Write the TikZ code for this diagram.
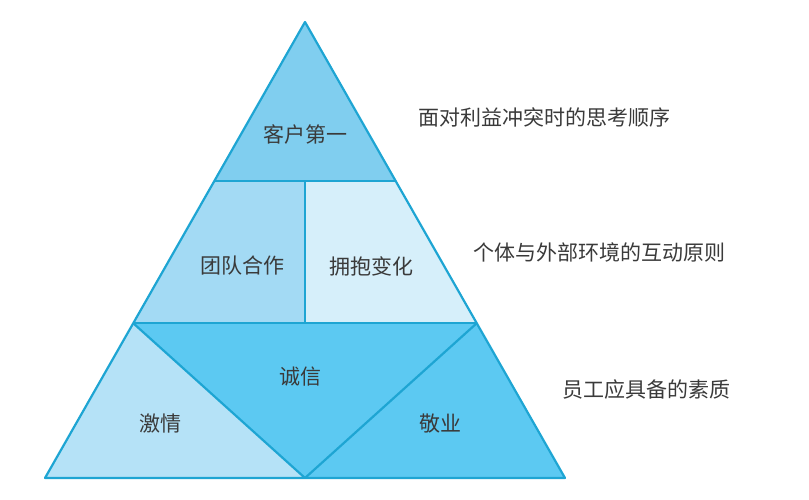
\documentclass[tikz,border=0pt]{standalone}
\usepackage{fontspec}
\newfontfamily\cjk{Noto Sans CJK SC}
\definecolor{edge}{HTML}{1EA5D3}
\definecolor{cA}{HTML}{80CEEF}
\definecolor{cB}{HTML}{A3DAF4}
\definecolor{cC}{HTML}{D6EFFA}
\definecolor{cD}{HTML}{5CC9F2}
\definecolor{cE}{HTML}{B5E2F7}
\definecolor{txt}{HTML}{3A3A3A}
\begin{document}
\begin{tikzpicture}[x=1pt,y=-1pt,
  part/.style={draw=edge,line width=2.2pt,line join=round},
  lbl/.style={font=\cjk\fontsize{21}{24}\selectfont,text=txt,inner sep=0pt}]
\useasboundingbox (0,0) rectangle (809,500);
\coordinate (T) at (305,22);
\coordinate (L) at (45,478);
\coordinate (R) at (565,478);
\coordinate (M) at (305,478);
\coordinate (A1) at (214,181);
\coordinate (A2) at (396,181);
\coordinate (A3) at (305,181);
\coordinate (B1) at (133,323);
\coordinate (B2) at (477,323);
\coordinate (B3) at (305,323);
\fill[cA] (T)--(A2)--(A1)--cycle;
\fill[cB] (A1)--(A3)--(B3)--(B1)--cycle;
\fill[cC] (A3)--(A2)--(B2)--(B3)--cycle;
\fill[cE] (B1)--(M)--(L)--cycle;
\fill[cD] (B1)--(B2)--(M)--cycle;
\fill[cD] (B2)--(R)--(M)--cycle;
\draw[part] (A1)--(A2);
\draw[part] (A3)--(B3);
\draw[part] (B1)--(B2);
\draw[part] (B1)--(M)--(B2);
\draw[part] (T)--(L)--(R)--cycle;
\node[lbl] (n1) at (305,134) {客户第一};
\node[lbl] (n2) at (242,266) {团队合作};
\node[lbl] (n3) at (371,266) {拥抱变化};
\node[lbl] (n4) at (300,377) {诚信};
\node[lbl] (n5) at (160,424) {激情};
\node[lbl] (n6) at (440,424) {敬业};
\node[lbl,anchor=west] (r1) at (418,117) {面对利益冲突时的思考顺序};
\node[lbl,anchor=west] (r2) at (473,252) {个体与外部环境的互动原则};
\node[lbl,anchor=west] (r3) at (562,390) {员工应具备的素质};
\end{tikzpicture}
\end{document}
